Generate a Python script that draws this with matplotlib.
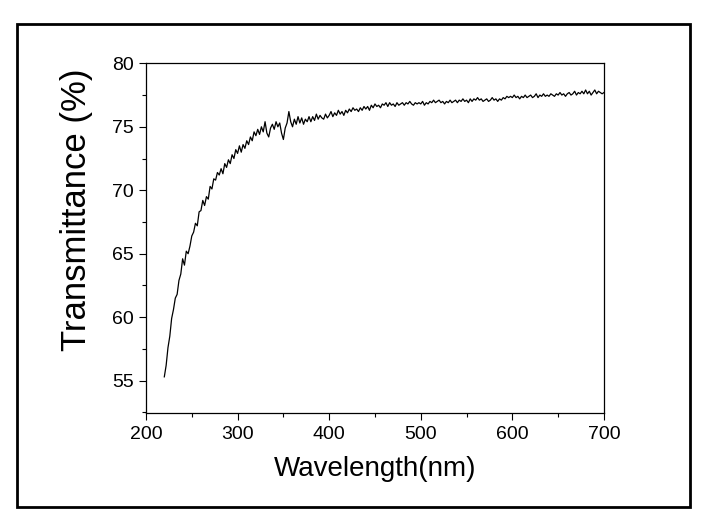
import numpy as np
import matplotlib
matplotlib.use('Agg')
import matplotlib.pyplot as plt
from matplotlib.patches import Rectangle
from matplotlib.ticker import MultipleLocator

plt.rcParams['font.family'] = ['Liberation Sans', 'DejaVu Sans']

# wavelength grid (nm), 2 nm steps from 220 to 700
wavelength = np.arange(220, 701, 2)

# transmittance (%)
transmittance = [
    55.3, 56.2, 57.6, 58.5, 59.9, 60.6, 61.5, 61.8, 62.9, 63.4,
    64.6, 64.1, 65.2, 65.0, 65.6, 66.4, 66.7, 67.4, 67.2, 68.3,
    68.4, 69.2, 68.8, 69.5, 69.3, 70.3, 70.1, 70.9, 70.8, 71.4,
    71.2, 71.7, 71.3, 72.1, 71.8, 72.4, 72.1, 72.8, 72.5, 73.2,
    72.9, 73.5, 73.0, 73.6, 73.3, 73.9, 73.6, 74.2, 73.9, 74.6,
    74.3, 74.8, 74.4, 75.0, 74.6, 75.4, 74.5, 74.2, 74.9, 75.2,
    74.8, 75.4, 75.0, 75.3, 74.5, 74.0, 74.9, 75.3, 76.2, 75.4,
    75.0, 75.6, 75.2, 75.8, 75.3, 75.7, 75.2, 75.6, 75.4, 75.8,
    75.4, 75.8, 75.5, 76.0, 75.6, 75.9, 75.7, 75.6, 76.0, 75.7,
    75.9, 76.2, 75.8, 76.1, 75.9, 76.3, 76.0, 76.2, 75.9, 76.3,
    76.1, 76.4, 76.2, 76.5, 76.3, 76.4, 76.2, 76.5, 76.3, 76.6,
    76.4, 76.6, 76.3, 76.7, 76.5, 76.8, 76.6, 76.7, 76.5, 76.8,
    76.7, 76.9, 76.6, 76.9, 76.7, 76.8, 76.6, 76.9, 76.7, 76.8,
    76.9, 76.7, 76.9, 76.8, 77.0, 76.8, 76.7, 76.9, 76.8, 76.9,
    76.8, 77.0, 76.7, 76.9, 76.8, 77.0, 76.9, 77.1, 76.9, 77.0,
    77.1, 76.9, 77.0, 76.8, 77.0, 76.9, 77.1, 76.9, 77.0, 77.1,
    76.9, 77.1, 77.0, 77.2, 77.0, 77.1, 76.9, 77.2, 77.0, 77.2,
    77.1, 77.3, 77.1, 77.2, 77.0, 77.1, 77.2, 77.0, 77.1, 77.3,
    77.1, 77.2, 77.0, 77.2, 77.1, 77.3, 77.2, 77.4, 77.3, 77.4,
    77.3, 77.5, 77.3, 77.4, 77.2, 77.4, 77.3, 77.5, 77.3, 77.4,
    77.5, 77.3, 77.4, 77.6, 77.3, 77.5, 77.4, 77.6, 77.4, 77.5,
    77.4, 77.6, 77.5, 77.4, 77.6, 77.5, 77.7, 77.5, 77.6, 77.4,
    77.6, 77.7, 77.5, 77.6, 77.8, 77.5, 77.7, 77.6, 77.8, 77.6,
    77.9, 77.6, 77.8, 77.5, 77.7, 77.9, 77.6, 77.8, 77.7, 77.6,
    77.7,
]

xticks = [200, 300, 400, 500, 600, 700]
yticks = [55, 60, 65, 70, 75, 80]

fig = plt.figure(figsize=(7.22, 5.26), dpi=100)
ax = fig.add_axes([0.2022, 0.2148, 0.6343, 0.6648])

ax.plot(wavelength, transmittance, color='black', linewidth=0.9)

ax.set_xlim(200, 700)
ax.set_ylim(52.45, 80)
ax.set_xticks(xticks)
ax.set_yticks(yticks)
ax.xaxis.set_minor_locator(MultipleLocator(50))
ax.yaxis.set_minor_locator(MultipleLocator(2.5))
ax.tick_params(which='major', direction='out', length=5, width=0.8,
               labelsize=14, pad=4, top=False, right=False)
ax.tick_params(which='minor', direction='out', length=3, width=0.8,
               top=False, right=False)
for s in ax.spines.values():
    s.set_linewidth(0.9)

ax.set_xlabel('Wavelength(nm)', fontsize=20, labelpad=10)
ax.set_ylabel('Transmittance (%)', fontsize=25)
ax.yaxis.set_label_coords(-0.115, 0.58)

# outer frame around the whole figure
fig.patches.append(Rectangle((0.0229, 0.0361), 0.9328, 0.9183,
                             transform=fig.transFigure, fill=False,
                             edgecolor='black', linewidth=2))

fig.savefig('out.png', dpi=100)
